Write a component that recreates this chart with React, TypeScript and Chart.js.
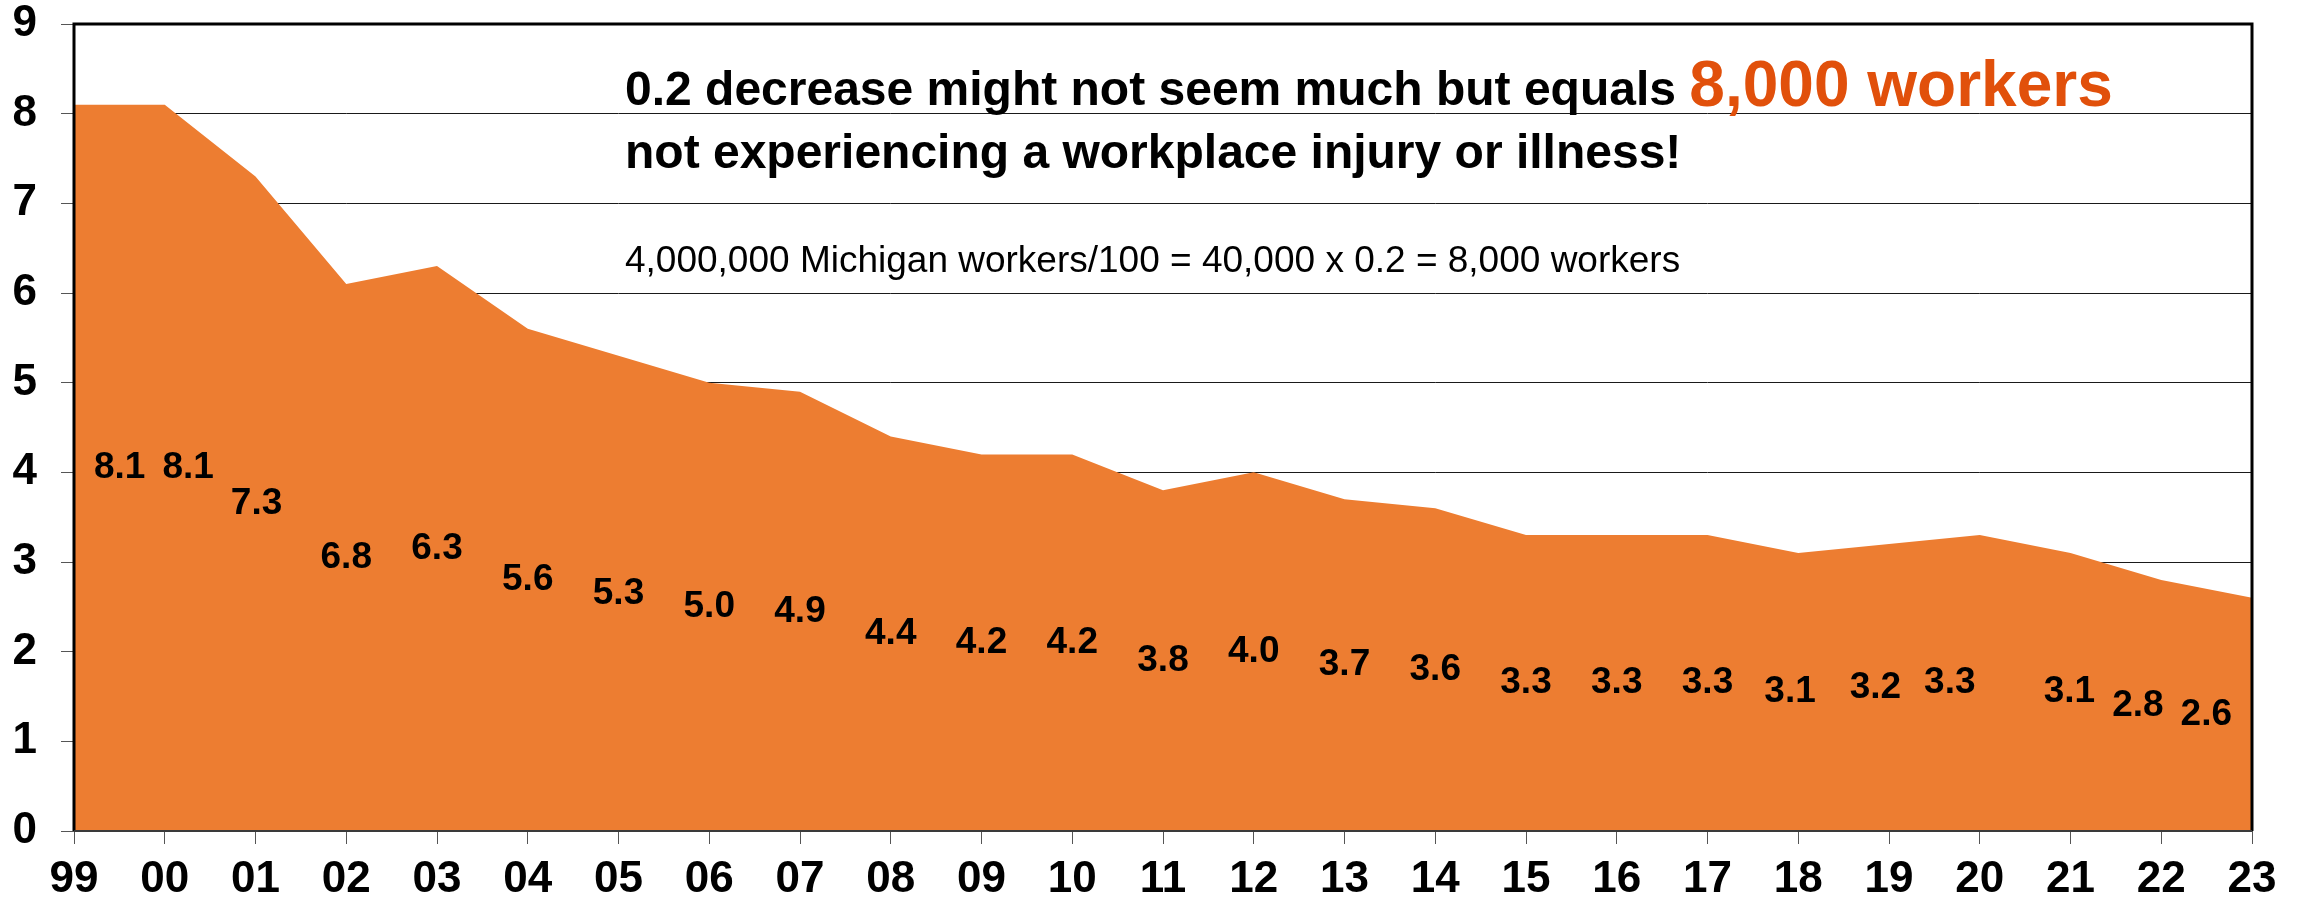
import React, { useEffect, useRef } from "react";
import { Chart, registerables } from "chart.js";

Chart.register(...registerables);

const years = ["99", "00", "01", "02", "03", "04", "05", "06", "07", "08", "09", "10", "11", "12", "13", "14", "15", "16", "17", "18", "19", "20", "21", "22", "23"];
const rates = [8.1, 8.1, 7.3, 6.1, 6.3, 5.6, 5.3, 5.0, 4.9, 4.4, 4.2, 4.2, 3.8, 4.0, 3.7, 3.6, 3.3, 3.3, 3.3, 3.1, 3.2, 3.3, 3.1, 2.8, 2.6];
const rateLabels = ["8.1", "8.1", "7.3", "6.8", "6.3", "5.6", "5.3", "5.0", "4.9", "4.4", "4.2", "4.2", "3.8", "4.0", "3.7", "3.6", "3.3", "3.3", "3.3", "3.1", "3.2", "3.3", "3.1", "2.8", "2.6"];
const yMin = 0;
const yMax = 9;

const headlineBlack = "0.2 decrease might not seem much but equals";
const headlineOrange = "8,000 workers";
const headlineLine2 = "not experiencing a workplace injury or illness!";
const noteLine = "4,000,000 Michigan workers/100 = 40,000 x 0.2 = 8,000 workers";

const FONT = "'Liberation Sans', Arial, Helvetica, sans-serif";
const AREA_COLOR = "#ED7D31";
const HIGHLIGHT = "#E1500B";

// label nudges in category-width units (where the original labels were dragged)
const labelNudge: Record<number, number> = { 19: -0.09, 20: -0.15, 21: -0.33 };

const labelPlugin = {
  id: "areaLabels",
  afterDatasetsDraw(chart: any) {
    const { ctx, chartArea, scales } = chart;
    const x = scales.x;
    const y = scales.y;
    ctx.save();
    ctx.font = `bold 37px ${FONT}`;
    ctx.fillStyle = "#000";
    ctx.textAlign = "center";
    ctx.textBaseline = "middle";
    const step = x.getPixelForValue(1) - x.getPixelForValue(0);
    const items = rates.map((v, i) => ({
      x: x.getPixelForValue(i) + (labelNudge[i] || 0) * step,
      y: y.getPixelForValue(v / 2),
      w: ctx.measureText(rateLabels[i]).width,
      t: rateLabels[i],
    }));
    const pad = 20;
    const gap = 17;
    const h = 37;
    const clamp = () =>
      items.forEach((it) => {
        it.x = Math.max(it.x, chartArea.left + pad + it.w / 2);
        it.x = Math.min(it.x, chartArea.right - pad - it.w / 2);
      });
    clamp();
    for (let i = 1; i < items.length; i++) {
      const a = items[i - 1];
      const b = items[i];
      if (Math.abs(a.y - b.y) < h) {
        const min = a.x + a.w / 2 + gap + b.w / 2;
        if (b.x < min) b.x = min;
      }
    }
    clamp();
    for (let i = items.length - 2; i >= 0; i--) {
      const a = items[i];
      const b = items[i + 1];
      if (Math.abs(a.y - b.y) < h) {
        const max = b.x - b.w / 2 - gap - a.w / 2;
        if (a.x > max) a.x = max;
      }
    }
    items.forEach((it) => ctx.fillText(it.t, it.x, it.y));
    ctx.restore();
  },
};

const framePlugin = {
  id: "frame",
  afterDatasetsDraw(chart: any) {
    const { ctx, chartArea } = chart;
    const { left, right, top, bottom } = chartArea;
    ctx.save();
    ctx.strokeStyle = "#000";
    ctx.lineWidth = 3;
    ctx.beginPath();
    ctx.moveTo(left, bottom);
    ctx.lineTo(left, top);
    ctx.lineTo(right, top);
    ctx.lineTo(right, bottom);
    ctx.stroke();
    ctx.strokeStyle = "#3a3a3a";
    ctx.lineWidth = 2;
    ctx.beginPath();
    ctx.moveTo(left, bottom);
    ctx.lineTo(right, bottom);
    ctx.stroke();
    ctx.restore();
  },
};

const headlinePlugin = {
  id: "headline",
  afterDraw(chart: any) {
    const { ctx } = chart;
    ctx.save();
    ctx.textAlign = "left";
    ctx.textBaseline = "alphabetic";
    const x0 = 625;
    ctx.font = `bold 48px ${FONT}`;
    ctx.fillStyle = "#000";
    ctx.fillText(headlineBlack, x0, 105);
    const w1 = ctx.measureText(headlineBlack + " ").width;
    ctx.font = `bold 64px ${FONT}`;
    ctx.fillStyle = HIGHLIGHT;
    ctx.fillText(headlineOrange, x0 + w1, 106);
    ctx.font = `bold 48px ${FONT}`;
    ctx.fillStyle = "#000";
    ctx.fillText(headlineLine2, x0, 168);
    ctx.font = `37px ${FONT}`;
    ctx.fillText(noteLine, x0, 272);
    ctx.restore();
  },
};

export default function App() {
  const canvasRef = useRef<HTMLCanvasElement | null>(null);

  useEffect(() => {
    if (!canvasRef.current) return;
    const chart = new Chart(canvasRef.current, {
      type: "line",
      data: {
        labels: years,
        datasets: [
          {
            data: rates,
            fill: "origin",
            backgroundColor: AREA_COLOR,
            borderWidth: 0,
            borderColor: AREA_COLOR,
            pointRadius: 0,
            tension: 0,
          },
        ],
      },
      options: {
        animation: false,
        responsive: true,
        maintainAspectRatio: false,
        layout: { padding: { top: 0, right: 51, left: 0, bottom: 0 } },
        plugins: {
          legend: { display: false },
          tooltip: { enabled: false },
          title: { display: false },
        },
        scales: {
          x: {
            type: "category",
            offset: false,
            grid: {
              drawOnChartArea: false,
              drawTicks: true,
              tickLength: 13,
              tickColor: "#555",
            },
            border: { display: false },
            ticks: {
              color: "#000",
              font: { family: FONT, size: 44, weight: "bold", lineHeight: 1 },
              padding: 14,
              autoSkip: false,
              maxRotation: 0,
              minRotation: 0,
            },
            afterFit(scale: any) {
              scale.height = 71;
            },
          },
          y: {
            min: yMin,
            max: yMax,
            grid: {
              color: "#1a1a1a",
              lineWidth: 1,
              drawTicks: true,
              tickLength: 13,
              tickColor: "#555",
            },
            border: { display: false },
            ticks: {
              stepSize: 1,
              color: "#000",
              font: { family: FONT, size: 44, weight: "bold", lineHeight: 1 },
              padding: 24,
            },
            afterFit(scale: any) {
              scale.width = 74;
              scale.paddingTop = 24;
              scale.paddingBottom = 0;
            },
          },
        },
      },
      plugins: [labelPlugin, framePlugin, headlinePlugin],
    } as any);
    return () => chart.destroy();
  }, []);

  return (
    <div style={{ position: "absolute", left: 0, top: 0, width: 2303, height: 902, background: "#fff" }}>
      <canvas ref={canvasRef} />
    </div>
  );
}
